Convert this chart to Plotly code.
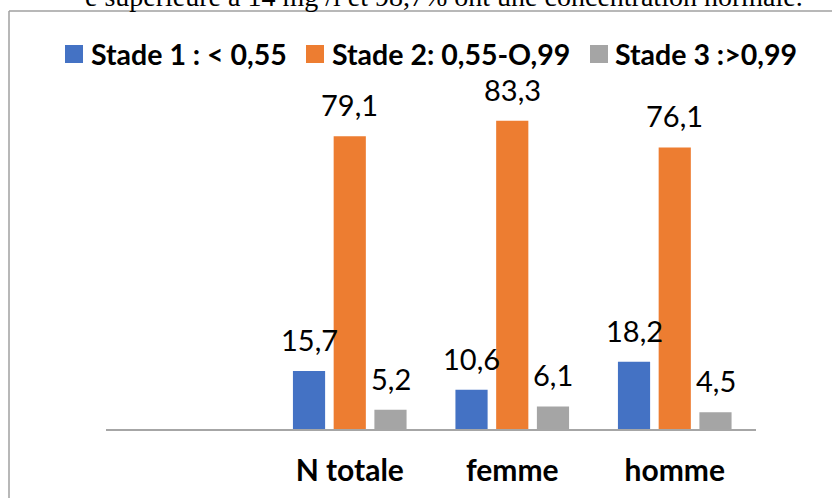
import plotly.graph_objects as go

# Categories and series values (%)
categories = ["N totale", "femme", "homme"]
stage_names = ["Stade 1 : < 0,55", "Stade 2: 0,55-O,99", "Stade 3 :>0,99"]
stade1 = [15.7, 10.6, 18.2]
stade2 = [79.1, 83.3, 76.1]
stade3 = [5.2, 6.1, 4.5]
series = [stade1, stade2, stade3]
colors = ["#4472C4", "#ED7D31", "#A5A5A5"]

W, H = 832, 498
ML, MR, MT, MB = 106, 76, 96, 69
PW, PH = W - ML - MR, H - MT - MB


def px_x(p):
    return (p - ML) / PW


def px_y(p):
    return (H - MB - p) / PH


def fmt(v):
    return f"{v:.1f}".replace(".", ",")


fig = go.Figure()
for name, vals, col in zip(stage_names, series, colors):
    fig.add_trace(go.Bar(
        x=categories, y=vals, name=name, marker_color=col,
        marker_line_width=0, showlegend=False,
    ))

# value labels above each bar
offsets = [-40.75, 0, 40.75]
annotations = []
for off, vals in zip(offsets, series):
    for c, v in zip(categories, vals):
        annotations.append(dict(
            x=c, y=v, xref="x", yref="y", text=fmt(v), showarrow=False,
            xshift=off, yshift=12, yanchor="bottom",
            font=dict(family="Lato", size=29, color="#000000"),
        ))

# legend row
legend_sq = [65, 306, 590]
legend_tx = [89, 330, 613]
shapes = []
for sx, tx, name, col in zip(legend_sq, legend_tx, stage_names, colors):
    shapes.append(dict(
        type="rect", xref="paper", yref="paper",
        x0=px_x(sx), x1=px_x(sx + 18), y0=px_y(63), y1=px_y(45),
        fillcolor=col, line_width=0,
    ))
    annotations.append(dict(
        x=px_x(tx), y=px_y(54), xref="paper", yref="paper", text=f"<b>{name}</b>",
        showarrow=False, xanchor="left", yanchor="middle",
        font=dict(family="Lato", size=28.5, color="#000000"),
    ))

# chart frame (top and left edges)
shapes.append(dict(type="line", xref="paper", yref="paper",
                   x0=px_x(9), x1=px_x(W + 5), y0=px_y(11), y1=px_y(11),
                   line=dict(color="#A0A0A0", width=1.5)))
shapes.append(dict(type="line", xref="paper", yref="paper",
                   x0=px_x(9), x1=px_x(9), y0=px_y(11), y1=px_y(H + 5),
                   line=dict(color="#A0A0A0", width=1.5)))

# surrounding document text
annotations.append(dict(
    x=px_x(805), y=px_y(-3), xref="paper", yref="paper",
    text="e supérieure à 14 mg /l et 98,7% ont une concentration normale.",
    showarrow=False, xanchor="right", yanchor="middle",
    font=dict(family="Liberation Serif", size=28, color="#000000"),
))

fig.update_layout(
    width=W, height=H,
    margin=dict(l=ML, r=MR, t=MT, b=MB, pad=0, autoexpand=False),
    paper_bgcolor="white", plot_bgcolor="white",
    barmode="group", bargap=0.248, bargroupgap=0.21,
    annotations=annotations, shapes=shapes,
    xaxis=dict(
        type="category", range=[-1.5, 2.5], showgrid=False, automargin=False,
        showline=True, linecolor="#A6A6A6", linewidth=1.5,
        ticks="", ticklabelstandoff=14,
        tickfont=dict(family="Lato", size=30, color="#000000", weight="bold"),
    ),
    yaxis=dict(range=[0, 90], visible=False, showgrid=False, zeroline=False,
               automargin=False),
)

fig.write_html("out.html")
